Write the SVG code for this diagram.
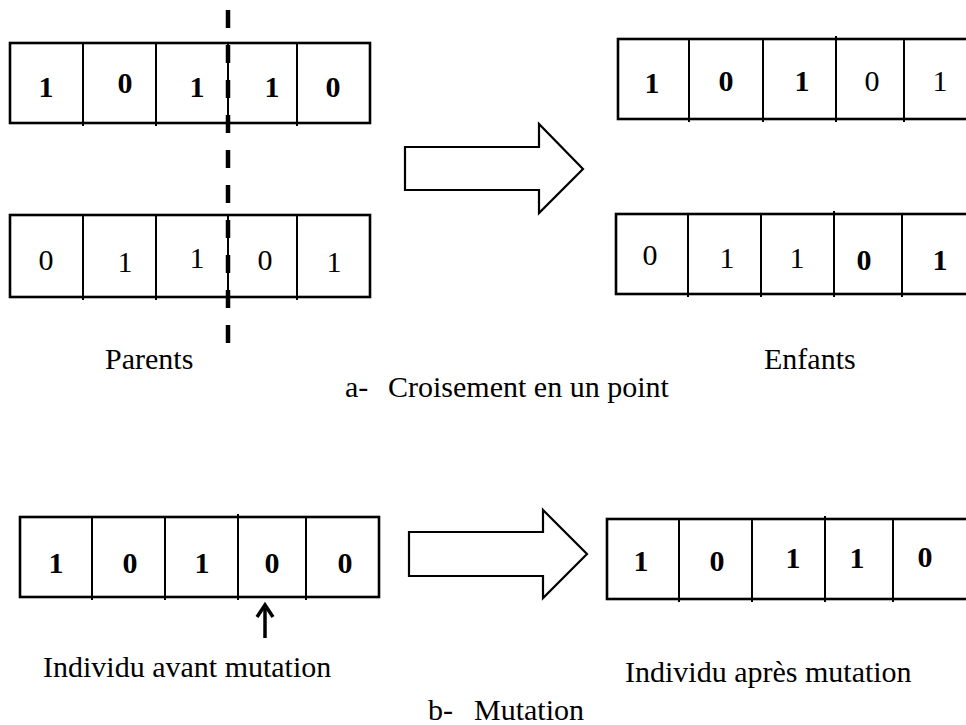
<svg xmlns="http://www.w3.org/2000/svg" width="966" height="725" viewBox="0 0 966 725">
  <style>
    .frame { fill: #fff; stroke: #000; stroke-width: 2.6; }
    .div { stroke: #000; stroke-width: 2; }
    .bit { font-family: "Liberation Serif", "Times New Roman", serif; font-size: 30px; text-anchor: middle; fill: #000; }
    .b { font-weight: bold; }
    .label { font-family: "Liberation Serif", "Times New Roman", serif; font-size: 30px; fill: #000; }
    .big-arrow { fill: #fff; stroke: #000; stroke-width: 2.2; stroke-linejoin: miter; }
    .cut { stroke: #000; stroke-width: 4.5; stroke-dasharray: 18 17; fill: none; }
    .pointer { stroke: #000; stroke-width: 3.5; fill: none; }
  </style>

  <!-- Parent 1 : 1 0 1 1 0 -->
  <g id="parent1">
    <rect class="frame" x="10" y="43" width="360" height="80"/>
    <path class="div" d="M83 43V126M156 43V126M228 43V126M297 43V126"/>
    <text class="bit b" x="46" y="97">1</text>
    <text class="bit b" x="125" y="93">0</text>
    <text class="bit b" x="197" y="97">1</text>
    <text class="bit b" x="272" y="97">1</text>
    <text class="bit b" x="333" y="97">0</text>
  </g>

  <!-- Parent 2 : 0 1 1 0 1 -->
  <g id="parent2">
    <rect class="frame" x="10" y="215" width="360" height="82"/>
    <path class="div" d="M83 215V300M156 215V300M228 215V300M297 215V300"/>
    <text class="bit" x="46" y="270">0</text>
    <text class="bit" x="125" y="272">1</text>
    <text class="bit" x="197" y="268">1</text>
    <text class="bit" x="265" y="270">0</text>
    <text class="bit" x="334" y="272">1</text>
  </g>

  <!-- Cut point -->
  <g id="cut-point">
    <line class="cut" x1="228" y1="10" x2="228" y2="343"/>
  </g>

  <!-- Child 1 : 1 0 1 | 0 1 -->
  <g id="child1">
    <rect class="frame" x="618" y="39" width="370" height="80"/>
    <path class="div" d="M689 39V122M763 39V122M836 36V122M904 39V122"/>
    <text class="bit b" x="652" y="93">1</text>
    <text class="bit b" x="726" y="91">0</text>
    <text class="bit b" x="802" y="91">1</text>
    <text class="bit" x="872" y="91">0</text>
    <text class="bit" x="940" y="91">1</text>
  </g>

  <!-- Child 2 : 0 1 1 | 0 1 -->
  <g id="child2">
    <rect class="frame" x="616" y="214" width="370" height="80"/>
    <path class="div" d="M688 214V297M761 214V297M834 211V297M902 214V297"/>
    <text class="bit" x="650" y="265">0</text>
    <text class="bit" x="727" y="268">1</text>
    <text class="bit" x="797" y="268">1</text>
    <text class="bit b" x="864" y="270">0</text>
    <text class="bit b" x="940" y="270">1</text>
  </g>

  <!-- Individual before mutation : 1 0 1 0 0 -->
  <g id="before-mutation">
    <rect class="frame" x="20" y="517" width="359" height="80"/>
    <path class="div" d="M92 517V600M165 517V600M238 514V600M306 517V600"/>
    <text class="bit b" x="56" y="573">1</text>
    <text class="bit b" x="130" y="573">0</text>
    <text class="bit b" x="202" y="573">1</text>
    <text class="bit b" x="272" y="573">0</text>
    <text class="bit b" x="345" y="573">0</text>
  </g>

  <!-- Individual after mutation : 1 0 1 1 0 -->
  <g id="after-mutation">
    <rect class="frame" x="607" y="519" width="370" height="80"/>
    <path class="div" d="M679 519V602M752 519V602M825 516V602M893 519V602"/>
    <text class="bit b" x="641" y="571">1</text>
    <text class="bit b" x="717" y="571">0</text>
    <text class="bit b" x="793" y="568">1</text>
    <text class="bit b" x="857" y="568">1</text>
    <text class="bit b" x="925" y="567">0</text>
  </g>

  <!-- Connectors -->
  <g id="connectors">
    <polygon id="crossover-arrow" class="big-arrow" points="405,147 539,147 539,124 583,169 539,213 539,190 405,190"/>
    <polygon id="mutation-arrow" class="big-arrow" points="409,532 543,532 543,510 587,554 543,598 543,576 409,576"/>
    <g id="mutation-pointer">
      <line class="pointer" x1="265" y1="606" x2="265" y2="638"/>
      <polyline class="pointer" points="257,617 265,605 273,617" stroke-linejoin="miter"/>
    </g>
  </g>

  <!-- Labels -->
  <g id="labels">
    <text class="label" x="105" y="369">Parents</text>
    <text class="label" x="764" y="369">Enfants</text>
    <text class="label" x="345" y="397">a-</text>
    <text class="label" x="388" y="397">Croisement en un point</text>
    <text class="label" x="43" y="677">Individu avant mutation</text>
    <text class="label" x="625" y="682">Individu après mutation</text>
    <text class="label" x="428" y="720">b-</text>
    <text class="label" x="474" y="720">Mutation</text>
  </g>
</svg>
